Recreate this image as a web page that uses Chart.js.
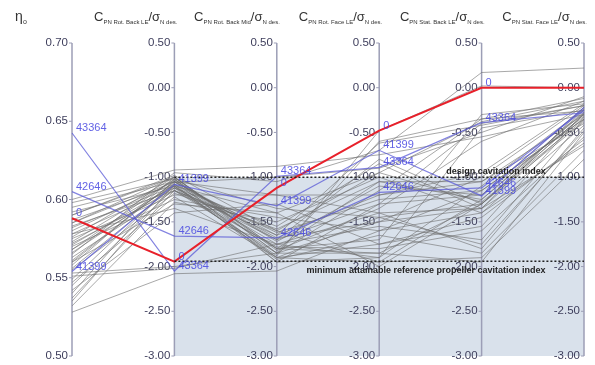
<!DOCTYPE html>
<html>
<head>
<meta charset="utf-8">
<script src="https://cdn.jsdelivr.net/npm/chart.js@4.4.1/dist/chart.umd.min.js"></script>
<style>
  html, body { margin: 0; padding: 0; background: #fff; }
  canvas { display: block; }
</style>
</head>
<body>
<canvas id="chart" width="595" height="365"></canvas>
<script>
// Parallel coordinates: one entry per design in every axis array.
// First four entries are the labelled designs, the rest are plain gray lines.
const designIds = ['0', '43364', '42646', '41399'];

const etaO = [0.588, 0.6425, 0.605, 0.554,
  0.600, 0.598, 0.595, 0.592, 0.590, 0.587, 0.585, 0.583, 0.580, 0.578, 0.576, 0.575, 0.573, 0.571,
  0.570, 0.568, 0.566, 0.565, 0.563, 0.561, 0.560, 0.558, 0.556, 0.555, 0.553, 0.551, 0.549, 0.547,
  0.545, 0.542, 0.540, 0.537, 0.535, 0.532, 0.528, 0.585, 0.578, 0.590, 0.568, 0.560, 0.572, 0.582];
const rotBackLE = [-1.945, -2.05, -1.66, -1.08,
  -0.92, -1.02, -1.05, -1.10, -0.98, -1.08, -1.00, -1.15, -1.05, -1.12, -1.00, -1.20, -1.03, -1.10,
  -1.25, -1.02, -1.08, -0.95, -1.15, -1.05, -1.30, -1.00, -1.10, -1.18, -2.00, -2.02, -1.06, -1.22,
  -1.12, -1.40, -1.02, -1.15, -1.08, -1.28, -2.08, -1.05, -1.35, -1.00, -1.12, -1.05, -1.15, -1.10];
const rotBackMid = [-1.12, -0.99, -1.68, -1.32,
  -0.88, -1.35, -1.70, -1.80, -1.60, -1.75, -1.85, -1.65, -1.90, -1.55, -1.80, -1.20, -1.72, -1.88,
  -1.45, -1.95, -1.62, -1.05, -1.78, -1.68, -1.40, -1.82, -1.92, -1.58, -1.85, -1.75, -1.00, -1.90,
  -1.70, -1.30, -1.85, -1.60, -1.95, -1.50, -2.05, -1.20, -1.75, -1.80, -1.90, -1.65, -1.85, -1.40];
const rotFaceLE = [-0.48, -0.89, -1.17, -0.70,
  -0.75, -1.45, -1.30, -1.85, -0.95, -1.55, -0.60, -1.20, -1.95, -0.85, -1.70, -1.40, -1.10, -0.48,
  -1.60, -1.90, -1.25, -0.70, -1.80, -1.50, -2.00, -1.35, -1.65, -1.05, -1.50, -1.90, -0.90, -1.45,
  -0.80, -1.75, -1.15, -1.95, -1.30, -1.00, -1.60, -1.20, -1.40, -1.05, -1.75, -0.62, -1.85, -0.95];
const statBackLE = [0.00, -0.39, -1.12, -1.21,
  -0.55, -1.30, -0.40, -1.30, -0.38, -1.70, -0.35, -1.05, -1.25, -1.35, -0.30, -1.80, -1.20, 0.02,
  -1.40, -0.45, -1.15, 0.17, -1.60, -1.00, -1.30, -0.60, -1.85, -1.25, -1.35, -1.10, -0.50, -1.75,
  -1.30, -1.45, -0.35, -1.90, -1.20, -1.40, -1.15, -0.95, -1.35, -1.05, -1.55, -0.42, -1.95, -1.28];
const statFaceLE = [0.00, -0.28, -0.25, -0.22,
  -0.30, -0.25, -0.20, -0.30, -0.15, -0.35, -0.12, -0.40, -0.28, -0.22, -0.18, -0.45, -0.32, 0.00,
  -0.62, -0.25, -0.35, 0.22, -0.55, -0.20, -0.38, -0.15, -0.70, -0.27, -0.33, -0.24, -0.10, -0.48,
  -0.30, -0.58, -0.26, -0.80, -0.22, -0.42, -0.35, -0.18, -0.65, -0.30, -0.28, -0.20, -0.50, -0.36];

const axisValues = [etaO, rotBackLE, rotBackMid, rotFaceLE, statBackLE, statFaceLE];
const axisRanges = [[0.50, 0.70], [-3, 0.5], [-3, 0.5], [-3, 0.5], [-3, 0.5], [-3, 0.5]];
const etaTicks = [0.50, 0.55, 0.60, 0.65, 0.70];
const coefTicks = [0.50, 0.00, -0.50, -1.00, -1.50, -2.00, -2.50, -3.00];
const axisTicks = [etaTicks, coefTicks, coefTicks, coefTicks, coefTicks, coefTicks];
const axisSubs = ['', 'PN Rot. Back LE', 'PN Rot. Back Mid', 'PN Rot. Face LE', 'PN Stat. Back LE', 'PN Stat. Face LE'];

const designIndex = -1.00;
const minAttainable = -1.94;

const FONT = '"Liberation Sans", Arial, sans-serif';

function norm(axis, v) {
  const [lo, hi] = axisRanges[axis];
  return (v - lo) / (hi - lo);
}

const nDesigns = etaO.length;
const datasets = [];
for (let d = 0; d < nDesigns; d++) {
  let color = 'rgba(110,110,110,0.6)';
  let width = 1;
  if (d === 0) { color = '#e8202a'; width = 2; }
  else if (d < designIds.length) { color = 'rgba(90,90,215,0.75)'; width = 1.2; }
  datasets.push({
    data: axisValues.map((vals, a) => norm(a, vals[d])),
    borderColor: color,
    borderWidth: width,
    pointRadius: 0,
    tension: 0,
    fill: false
  });
}

const parallelAxes = {
  id: 'parallelAxes',
  beforeDatasetsDraw(chart) {
    const { ctx, scales: { x, y } } = chart;
    ctx.save();
    // shaded cavitation zone
    const x1 = x.getPixelForValue(1), x5 = x.getPixelForValue(5);
    const yTop = y.getPixelForValue(norm(1, designIndex));
    const yBot = y.getPixelForValue(0);
    ctx.fillStyle = '#d9e1eb';
    ctx.fillRect(x1, yTop, x5 - x1, yBot - yTop);

    // axes, ticks, tick labels
    ctx.font = '11.5px ' + FONT;
    ctx.textAlign = 'right';
    ctx.textBaseline = 'middle';
    axisTicks.forEach((ticks, a) => {
      const px = x.getPixelForValue(a);
      ctx.strokeStyle = '#9c9eb6';
      ctx.lineWidth = 1.5;
      ctx.beginPath();
      ctx.moveTo(px, y.getPixelForValue(1));
      ctx.lineTo(px, y.getPixelForValue(0));
      ctx.stroke();
      ticks.forEach(t => {
        const py = y.getPixelForValue(norm(a, t));
        ctx.lineWidth = 1;
        ctx.beginPath();
        ctx.moveTo(px - 3, py);
        ctx.lineTo(px, py);
        ctx.stroke();
        ctx.fillStyle = '#3e3e5c';
        ctx.fillText(t.toFixed(2), px - 4, py);
      });
    });

    // titles
    ctx.fillStyle = '#333';
    ctx.textAlign = 'left';
    ctx.textBaseline = 'alphabetic';
    ctx.font = '14px ' + FONT;
    ctx.fillText('η', 15, 21);
    ctx.font = '7px ' + FONT;
    ctx.fillText('o', 23, 24);
    for (let a = 1; a < axisSubs.length; a++) {
      const parts = [
        { t: 'C', f: '13px ' + FONT, dy: 0 },
        { t: axisSubs[a], f: '6px ' + FONT, dy: 3 },
        { t: '/σ', f: '13px ' + FONT, dy: 0 },
        { t: 'N des.', f: '6px ' + FONT, dy: 3 }
      ];
      let w = 0;
      parts.forEach(p => { ctx.font = p.f; w += ctx.measureText(p.t).width; });
      let cx = x.getPixelForValue(a) + 3 - w;
      parts.forEach(p => {
        ctx.font = p.f;
        ctx.fillText(p.t, cx, 21 + p.dy);
        cx += ctx.measureText(p.t).width;
      });
    }
    ctx.restore();
  },
  afterDatasetsDraw(chart) {
    const { ctx, scales: { x, y } } = chart;
    ctx.save();
    const x1 = x.getPixelForValue(1), x5 = x.getPixelForValue(5);
    // reference lines
    ctx.strokeStyle = '#222';
    ctx.lineWidth = 1.5;
    ctx.setLineDash([2, 2]);
    [designIndex, minAttainable].forEach(v => {
      const py = y.getPixelForValue(norm(1, v));
      ctx.beginPath();
      ctx.moveTo(x1, py);
      ctx.lineTo(x5, py);
      ctx.stroke();
    });
    ctx.setLineDash([]);
    ctx.fillStyle = '#222';
    ctx.font = 'bold 9px ' + FONT;
    ctx.textAlign = 'center';
    ctx.textBaseline = 'middle';
    ctx.fillText('design cavitation index', 496, y.getPixelForValue(norm(1, designIndex)) - 6);
    ctx.fillText('minimum attainable reference propeller cavitation index', 426, y.getPixelForValue(norm(1, minAttainable)) + 9);

    // design labels
    ctx.font = '11px ' + FONT;
    ctx.textAlign = 'left';
    ctx.fillStyle = 'rgba(70,70,225,0.85)';
    designIds.forEach((id, d) => {
      for (let a = 0; a < 5; a++) {
        const px = x.getPixelForValue(a);
        const py = y.getPixelForValue(norm(a, axisValues[a][d]));
        ctx.fillText(id, px + 4, py - 5);
      }
    });
    ctx.restore();
  }
};

new Chart(document.getElementById('chart'), {
  type: 'line',
  data: { labels: ['eta', 'rbl', 'rbm', 'rfl', 'sbl', 'sfl'], datasets },
  options: {
    responsive: false,
    animation: false,
    layout: { padding: { left: 72, right: 11, top: 43, bottom: 9 } },
    plugins: { legend: { display: false }, tooltip: { enabled: false } },
    scales: {
      x: { type: 'category', display: false, offset: false },
      y: { min: 0, max: 1, display: false }
    }
  },
  plugins: [parallelAxes]
});
</script>
</body>
</html>
